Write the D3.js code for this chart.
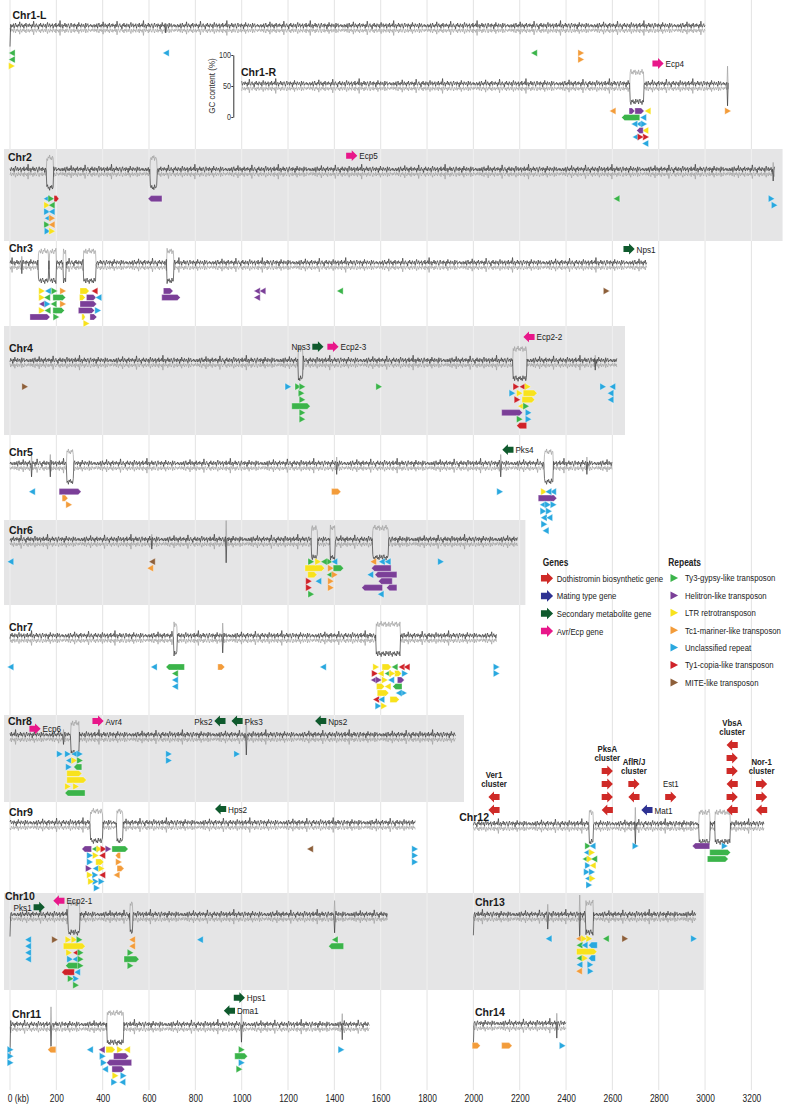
<!DOCTYPE html>
<html lang="en">
<head>
<meta charset="utf-8">
<title>GC content, genes and repeats along the chromosomes</title>
<script src="https://cdnjs.cloudflare.com/ajax/libs/d3/7.8.5/d3.min.js"></script>
<style>
*{margin:0;padding:0}
body{background:#fff;width:790px;height:1108px;overflow:hidden}
svg{display:block}
</style>
</head>
<body>
<svg id="c" width="790" height="1108"></svg>
<script>
// ---------- data ----------
const kbTicks = [0,200,400,600,800,1000,1200,1400,1600,1800,2000,2200,2400,2600,2800,3000,3200];
const gcTicks = [0,50,100];

const chrNames = ["Chr1-L","Chr1-R","Chr2","Chr3","Chr4","Chr5","Chr6","Chr7","Chr8","Chr9","Chr10","Chr11","Chr12","Chr13","Chr14"];
const chrStart = [0,1000,0,0,0,0,0,0,0,0,0,0,2000,2000,2000];
const chrEnd   = [3000,3100,3300,2750,2620,2600,2190,2100,1925,1750,1630,1553,3255,2960,2400];

// GC % sampled along a typical stretch (dark trace); grey trace = AT %
const gcTrace = [53,56,51,55,52,57,50,54,58,52,55,51,56,53,60,51,54,57,52,55,50,56,53,58,51,54,56,52,57,53,
  55,50,56,52,61,53,51,55,57,52,54,49,56,53,58,52,55,51,57,54,52,56,50,55,59,52,54,57,51,55,
  53,57,50,54,56,52,58,51,55,53,57,52,62,51,54,56,50,55,53,58,52,56,51,54,57,53,50,55,58,52,
  54,56,51,57,53,55,49,56,52,59,53,55,51,57,54,52,56,53,50,58,52,55,57,51,54,53,56,52,55,51];
// GC % inside AT-rich blocks
const atTrace = [24,28,21,26,29,23,25,20,27,24,28,22,25,21,29,24];
// AT-rich blocks [chromosome, from kb, to kb]
const atRich = [
  ["Chr1-R",2676,2736],["Chr2",158,187],["Chr2",604,634],
  ["Chr3",122,166],["Chr3",170,200],["Chr3",230,242],["Chr3",316,371],["Chr3",677,705],
  ["Chr4",1245,1265],["Chr4",2171,2231],["Chr5",245,273],["Chr5",2305,2344],
  ["Chr6",1302,1326],["Chr6",1381,1403],["Chr6",1565,1633],["Chr7",708,721],["Chr7",1580,1683],
  ["Chr8",262,299],["Chr9",348,400],["Chr9",460,486],["Chr10",252,302],["Chr10",518,530],
  ["Chr11",420,489],["Chr12",2500,2518],["Chr12",2975,3021],["Chr12",3043,3107],["Chr13",2485,2517]
];
// single-window GC dips [chromosome, kb, GC %, AT %]
const gcDips = [
  ["Chr1-L",0,20,50],["Chr1-L",673,42],["Chr1-R",3098,18],["Chr2",3295,35],["Chr3",50,36],
  ["Chr4",2525,38],["Chr5",94,32],["Chr5",173,32],["Chr5",1410,36],["Chr5",2118,32],["Chr5",2490,36],
  ["Chr6",611,38],["Chr6",932,16],["Chr7",918,26],["Chr8",230,38],["Chr8",1021,21],
  ["Chr10",0,18,50],["Chr10",1400,24],["Chr11",0,5,50],["Chr11",176,18],["Chr11",1000,25],["Chr11",1433,29],
  ["Chr12",2700,20],["Chr13",2000,20,50],["Chr13",2322,30],["Chr13",2460,15],["Chr14",2000,17,50],["Chr14",2360,30]
];

// genes [chromosome, kb, strand, type, label, tier, label side]
const genes = [
  ["Chr1-R",2797,1,"avr","Ecp4",0.5,1],
  ["Chr2",1475,1,"avr","Ecp5",0,1],
  ["Chr3",2672,1,"sec","Nps1",0,1],
  ["Chr4",1329,1,"sec","Nps3",0,-1],["Chr4",1394,1,"avr","Ecp2-3",0,1],["Chr4",2240,-1,"avr","Ecp2-2",0.75,1],
  ["Chr5",2149,-1,"sec","Pks4",0,1],
  ["Chr8",108,1,"avr","Ecp6",-0.6,1],["Chr8",380,1,"avr","Avr4",0,1],["Chr8",906,-1,"sec","Pks2",0,-1],
  ["Chr8",980,-1,"sec","Pks3",0,1],["Chr8",1341,-1,"sec","Nps2",0,1],
  ["Chr9",909,-1,"sec","Hps2",0,1],
  ["Chr10",126,1,"sec","Pks1",-0.5,-1],["Chr10",211,-1,"avr","Ecp2-1",0,1],
  ["Chr11",990,1,"sec","Hps1",1,1],["Chr11",947,-1,"sec","Dma1",0,1],
  ["Chr12",2089,-1,"dot","",0,0],["Chr12",2089,-1,"dot","",1,0],
  ["Chr12",2578,-1,"dot","",0,0],["Chr12",2578,1,"dot","",1,0],["Chr12",2578,1,"dot","",2,0],["Chr12",2578,1,"dot","",3,0],
  ["Chr12",2693,-1,"dot","",1,0],["Chr12",2693,1,"dot","",2,0],
  ["Chr12",2852,1,"dot","",1,0],
  ["Chr12",2749,-1,"mat","Mat1",0,1],
  ["Chr12",3117,-1,"dot","",0,0],["Chr12",3117,1,"dot","",1,0],["Chr12",3117,-1,"dot","",2,0],
  ["Chr12",3117,1,"dot","",3,0],["Chr12",3117,1,"dot","",4,0],["Chr12",3117,-1,"dot","",5,0],
  ["Chr12",3244,-1,"dot","",0,0],["Chr12",3244,1,"dot","",1,0],["Chr12",3244,1,"dot","",2,0]
];
// cluster names [chromosome, kb, lines, top tier, bold]
const clusterLabels = [
  ["Chr12",2089,["Ver1","cluster"],1,true],
  ["Chr12",2578,["PksA","cluster"],3,true],
  ["Chr12",2693,["AflR/J","cluster"],2,true],
  ["Chr12",2852,["Est1"],1,false],
  ["Chr12",3117,["VbsA","cluster"],5,true],
  ["Chr12",3244,["Nor-1","cluster"],2,true]
];

// repeats [chromosome, kb, strand, type, length kb (none = single element)]
const repeats = [
  ["Chr1-L",8,-1,"g"],["Chr1-L",8,-1,"g"],["Chr1-L",8,1,"l"],["Chr1-L",673,-1,"u"],["Chr1-L",2262,-1,"g"],
  ["Chr1-L",2465,1,"m"],["Chr1-L",2465,1,"m"],

  ["Chr1-R",2601,-1,"m"],
  ["Chr1-R",2697,1,"h",40],["Chr1-R",2752,-1,"l"],
  ["Chr1-R",2640,-1,"g",78],["Chr1-R",2733,-1,"u"],
  ["Chr1-R",2715,-1,"u"],["Chr1-R",2737,1,"u"],
  ["Chr1-R",2695,-1,"u"],["Chr1-R",2742,-1,"l"],
  ["Chr1-R",2672,1,"h",25],["Chr1-R",2705,-1,"h",28],["Chr1-R",2745,1,"c"],
  ["Chr1-R",2700,-1,"u"],["Chr1-R",2722,1,"c"],["Chr1-R",2742,-1,"u"],
  ["Chr1-R",3099,1,"m"],

  ["Chr2",158,-1,"u"],["Chr2",178,1,"g"],["Chr2",190,1,"c",21],
  ["Chr2",160,1,"l"],["Chr2",180,-1,"g"],
  ["Chr2",160,1,"u"],["Chr2",180,-1,"u"],
  ["Chr2",162,-1,"u"],["Chr2",182,1,"m"],
  ["Chr2",160,1,"g"],["Chr2",180,-1,"m"],
  ["Chr2",162,1,"u"],["Chr2",182,1,"l"],
  ["Chr2",596,-1,"h",60],["Chr2",2618,-1,"g"],["Chr2",3287,1,"u"],["Chr2",3300,1,"u"],

  ["Chr3",138,1,"l"],["Chr3",164,-1,"u"],["Chr3",192,1,"g"],["Chr3",229,1,"m"],
  ["Chr3",138,1,"l"],["Chr3",160,-1,"g"],["Chr3",185,1,"g",55],
  ["Chr3",138,-1,"h"],["Chr3",162,1,"u"],["Chr3",188,-1,"g"],["Chr3",229,1,"m"],
  ["Chr3",138,1,"l"],["Chr3",162,-1,"g"],["Chr3",185,1,"g",50],
  ["Chr3",86,1,"h",87],["Chr3",200,1,"g"],
  ["Chr3",302,1,"l",40],["Chr3",365,-1,"c"],
  ["Chr3",300,1,"l",25],["Chr3",330,1,"h",42],
  ["Chr3",302,1,"h",72],
  ["Chr3",295,1,"h",70],["Chr3",380,1,"u"],
  ["Chr3",310,1,"l",15],["Chr3",345,1,"h",30],["Chr3",382,-1,"u"],
  ["Chr3",330,1,"l"],
  ["Chr3",662,1,"h",42],["Chr3",655,1,"h",80],
  ["Chr3",1066,-1,"h"],["Chr3",1090,-1,"h"],["Chr3",1066,-1,"h"],["Chr3",1424,-1,"g"],["Chr3",2575,1,"t"],

  ["Chr4",65,1,"t"],["Chr4",1201,1,"u"],
  ["Chr4",1244,1,"g"],["Chr4",1258,1,"g"],["Chr4",1262,1,"g"],["Chr4",1262,1,"g"],["Chr4",1216,1,"g",80],
  ["Chr4",1262,1,"g"],["Chr4",1262,1,"g"],["Chr4",1593,1,"g"],
  ["Chr4",2185,1,"c"],["Chr4",2212,-1,"c"],["Chr4",2235,1,"l"],
  ["Chr4",2200,1,"l"],["Chr4",2215,1,"l",60],
  ["Chr4",2190,1,"c"],["Chr4",2210,1,"l",55],
  ["Chr4",2205,-1,"l"],["Chr4",2228,1,"g"],
  ["Chr4",2122,1,"h",90],["Chr4",2238,1,"u"],
  ["Chr4",2168,1,"u"],["Chr4",2200,1,"g"],["Chr4",2238,1,"u"],
  ["Chr4",2187,-1,"c",43],
  ["Chr4",2560,1,"u"],["Chr4",2600,-1,"u"],["Chr4",2592,-1,"u"],["Chr4",2592,-1,"u"],

  ["Chr5",95,-1,"u"],["Chr5",212,1,"h",95],["Chr5",225,1,"m",25],["Chr5",255,1,"m"],
  ["Chr5",1388,1,"m",40],["Chr5",2115,1,"u"],
  ["Chr5",2305,1,"l"],["Chr5",2280,1,"h",80],
  ["Chr5",2300,-1,"u"],["Chr5",2322,1,"u"],["Chr5",2344,-1,"u"],
  ["Chr5",2302,1,"u"],["Chr5",2324,-1,"u"],["Chr5",2346,1,"u"],
  ["Chr5",2304,-1,"u"],["Chr5",2326,1,"u"],
  ["Chr5",2306,1,"u"],["Chr5",2328,-1,"u"],
  ["Chr5",2312,-1,"u"],

  ["Chr6",2,-1,"u"],["Chr6",613,-1,"t"],["Chr6",605,-1,"m"],
  ["Chr6",1300,1,"g"],["Chr6",1380,1,"g"],["Chr6",1400,-1,"u"],
  ["Chr6",1273,1,"l",85],["Chr6",1385,1,"m"],
  ["Chr6",1285,1,"l",40],["Chr6",1330,1,"l"],["Chr6",1380,-1,"g"],["Chr6",1402,1,"m"],
  ["Chr6",1290,1,"c"],["Chr6",1331,-1,"u"],["Chr6",1355,-1,"g"],["Chr6",1395,1,"g",45],
  ["Chr6",1290,1,"c"],["Chr6",1385,1,"m"],
  ["Chr6",1300,1,"g"],["Chr6",1385,1,"m"],
  ["Chr6",1568,-1,"m"],["Chr6",1605,-1,"u"],["Chr6",1630,-1,"u"],
  ["Chr6",1560,-1,"h",85],
  ["Chr6",1575,-1,"h",95],
  ["Chr6",1555,-1,"u"],["Chr6",1590,-1,"h",60],
  ["Chr6",1518,-1,"h",90],["Chr6",1625,-1,"h",45],
  ["Chr6",1600,-1,"u"],["Chr6",1860,1,"u"],

  ["Chr7",2,-1,"u"],["Chr7",621,-1,"u"],["Chr7",673,-1,"g",80],["Chr7",712,-1,"g"],["Chr7",712,-1,"u"],["Chr7",712,-1,"u"],
  ["Chr7",897,1,"m",30],["Chr7",1351,-1,"u"],
  ["Chr7",1580,1,"l"],["Chr7",1606,1,"l",40],["Chr7",1660,-1,"g"],["Chr7",1690,-1,"c"],
  ["Chr7",1575,1,"c"],["Chr7",1600,-1,"l"],["Chr7",1630,-1,"g"],["Chr7",1660,1,"l",30],["Chr7",1705,1,"u"],
  ["Chr7",1570,-1,"h"],["Chr7",1592,1,"h"],["Chr7",1618,1,"l"],["Chr7",1645,-1,"u"],["Chr7",1672,1,"h",30],["Chr7",1712,-1,"c"],
  ["Chr7",1582,1,"l",35],["Chr7",1630,-1,"l"],["Chr7",1652,-1,"g",40],["Chr7",1700,1,"u"],
  ["Chr7",1585,1,"l",50],["Chr7",1650,1,"l"],["Chr7",1678,-1,"u"],
  ["Chr7",1580,-1,"c"],["Chr7",1603,-1,"u"],["Chr7",1640,1,"l",40],
  ["Chr7",1590,1,"u"],["Chr7",1615,1,"l"],
  ["Chr7",2100,1,"u"],["Chr7",2100,1,"u"],

  ["Chr8",215,1,"u"],
  ["Chr8",250,1,"u"],["Chr8",278,-1,"u"],["Chr8",302,1,"u"],
  ["Chr8",254,-1,"u"],["Chr8",278,1,"l"],["Chr8",302,1,"g"],
  ["Chr8",254,1,"u"],["Chr8",275,-1,"g",35],
  ["Chr8",245,1,"l",65],
  ["Chr8",245,1,"l",85],
  ["Chr8",250,1,"l"],["Chr8",285,1,"l"],
  ["Chr8",237,-1,"g",87],
  ["Chr8",686,1,"u"],["Chr8",686,1,"u"],["Chr8",980,1,"u"],

  ["Chr9",310,-1,"h",42],["Chr9",366,-1,"g"],["Chr9",386,1,"l"],["Chr9",404,1,"c"],["Chr9",425,1,"h"],
  ["Chr9",370,1,"l"],["Chr9",398,-1,"c"],
  ["Chr9",345,1,"u"],["Chr9",370,1,"l",35],
  ["Chr9",345,1,"u"],["Chr9",370,-1,"u"],["Chr9",395,1,"l"],
  ["Chr9",340,1,"h"],["Chr9",368,1,"u"],["Chr9",398,-1,"c"],
  ["Chr9",345,1,"l"],["Chr9",370,1,"u"],["Chr9",395,1,"u"],
  ["Chr9",350,1,"l"],["Chr9",375,1,"u"],
  ["Chr9",440,1,"g",70],
  ["Chr9",455,-1,"m",22],["Chr9",470,1,"m"],["Chr9",462,1,"m",30],["Chr9",460,-1,"m"],
  ["Chr9",1295,-1,"t"],["Chr9",1748,1,"u"],["Chr9",1748,1,"u"],["Chr9",1748,1,"u"],

  ["Chr10",78,-1,"u"],["Chr10",78,-1,"u"],["Chr10",78,-1,"u"],["Chr10",78,-1,"u"],["Chr10",194,1,"t"],
  ["Chr10",252,1,"l"],["Chr10",278,1,"l"],["Chr10",300,1,"g"],
  ["Chr10",230,1,"l",95],
  ["Chr10",255,1,"l"],["Chr10",285,-1,"c"],["Chr10",305,1,"g"],
  ["Chr10",259,1,"u"],["Chr10",282,-1,"u"],["Chr10",305,1,"g"],
  ["Chr10",240,-1,"g",55],["Chr10",305,1,"g"],
  ["Chr10",223,-1,"c",55],["Chr10",285,1,"u"],
  ["Chr10",262,1,"g"],["Chr10",290,-1,"u"],
  ["Chr10",285,1,"g"],
  ["Chr10",527,-1,"m"],["Chr10",527,-1,"m"],["Chr10",520,1,"g"],["Chr10",492,1,"g",65],["Chr10",520,1,"g"],
  ["Chr10",820,-1,"u"],["Chr10",1402,-1,"g"],["Chr10",1375,-1,"g",65],

  ["Chr11",2,1,"u"],["Chr11",2,1,"u"],["Chr11",2,1,"u"],["Chr11",163,-1,"m",35],["Chr11",345,-1,"u"],
  ["Chr11",414,1,"l",40],["Chr11",475,1,"l"],
  ["Chr11",396,-1,"h"],["Chr11",447,1,"h",65],
  ["Chr11",417,-1,"h",108],
  ["Chr11",400,1,"u"],["Chr11",440,1,"h",55],["Chr11",505,-1,"l"],
  ["Chr11",405,1,"u"],["Chr11",455,1,"l"],["Chr11",490,1,"u"],
  ["Chr11",410,-1,"u"],["Chr11",450,1,"u"],["Chr11",485,-1,"u"],
  ["Chr11",1000,1,"g"],["Chr11",970,1,"g",55],["Chr11",1000,1,"u"],["Chr11",990,1,"g"],["Chr11",1430,1,"u"],

  ["Chr12",2495,1,"g"],["Chr12",2514,-1,"u"],
  ["Chr12",2490,-1,"u"],["Chr12",2512,1,"l"],
  ["Chr12",2484,-1,"g"],["Chr12",2503,1,"l"],["Chr12",2521,-1,"g"],
  ["Chr12",2495,1,"u"],["Chr12",2515,-1,"l"],
  ["Chr12",2490,1,"u"],["Chr12",2512,1,"u"],
  ["Chr12",2495,-1,"u"],["Chr12",2514,1,"l"],
  ["Chr12",2500,1,"u"],
  ["Chr12",2700,1,"u"],["Chr12",2945,-1,"h",75],["Chr12",3085,1,"u"],["Chr12",3020,1,"g",90],["Chr12",3010,1,"g",90],

  ["Chr13",2325,-1,"u"],
  ["Chr13",2456,-1,"m"],["Chr13",2500,1,"l"],
  ["Chr13",2458,-1,"g"],["Chr13",2478,1,"l"],["Chr13",2497,-1,"u",38],
  ["Chr13",2445,1,"l",88],
  ["Chr13",2458,-1,"g"],["Chr13",2497,-1,"u",30],
  ["Chr13",2458,-1,"u"],["Chr13",2480,-1,"u"],["Chr13",2505,1,"u"],
  ["Chr13",2456,-1,"m"],["Chr13",2482,1,"l"],["Chr13",2506,1,"u"],
  ["Chr13",2572,-1,"g"],["Chr13",2655,1,"t"],["Chr13",2952,1,"u"],

  ["Chr14",1995,1,"m",35],["Chr14",2122,1,"m",45],["Chr14",2385,1,"u"]
];

const geneKeys = ["dot","mat","sec","avr"];
const geneNames = ["Dothistromin biosynthetic gene","Mating type gene","Secondary metabolite gene","Avr/Ecp gene"];
const repeatKeys = ["g","h","l","m","u","c","t"];
const repeatNames = ["Ty3-gypsy-like transposon","Helitron-like transposon","LTR retrotransposon","Tc1-mariner-like transposon","Unclassified repeat","Ty1-copia-like transposon","MITE-like transposon"];

// ---------- layout / style ----------
const COL = {dot:"#cf2a27",mat:"#2e3192",sec:"#0f5a2d",avr:"#e8178a",
  g:"#3bb44a",h:"#7b3f98",l:"#f8e21c",m:"#f39c3a",u:"#29a8df",c:"#cf2229",t:"#8d5f3a"};
const SANS = "'Liberation Sans',Arial,Helvetica,sans-serif";
const rows = {
  "Chr1-L":{y:28,lx:12.5,ly:19,lane:25},
  "Chr1-R":{y:86,lx:241,ly:76,lane:25},
  "Chr2":{y:171.7,lx:8,ly:160.7,lane:27},
  "Chr3":{y:265,lx:9,ly:252,lane:26},
  "Chr4":{y:362.7,lx:9,ly:352,lane:24},
  "Chr5":{y:465.7,lx:9,ly:456,lane:26},
  "Chr6":{y:541.7,lx:9,ly:534,lane:20},
  "Chr7":{y:638,lx:9,ly:630.7,lane:29},
  "Chr8":{y:737,lx:8,ly:724.7,lane:17},
  "Chr9":{y:825,lx:9,ly:816,lane:24},
  "Chr10":{y:916.7,lx:5,ly:900,lane:23},
  "Chr11":{y:1026.7,lx:12,ly:1018,lane:23},
  "Chr12":{y:826,lx:489,ly:820.7,lane:20,anchor:"end"},
  "Chr13":{y:916.7,lx:475,ly:906,lane:22},
  "Chr14":{y:1025.7,lx:475,ly:1015.7,lane:20}
};
const bands = [
  {rows:["Chr2"],y0:149,y1:241},{rows:["Chr4"],y0:326,y1:435},{rows:["Chr6"],y0:520,y1:605},
  {rows:["Chr8"],y0:715,y1:802},{rows:["Chr10","Chr13"],y0:893,y1:990}
];
const LANE = 6.5, STEP = 3;

const svg = d3.select("#c");
const x = d3.scaleLinear().domain([0, 3200]).range([10, 751.4]);
const gcScale = d3.scaleLinear().domain([0, 100]).range([117, 55]);
const gcOff = v => gcScale(v) - gcScale(50);

// condensed text: Arial metrics squeezed horizontally
function ntext(g, px, py, str, size, sx, o = {}) {
  return g.append("text").attr("transform", `translate(${px},${py}) scale(${sx},1)`)
    .attr("text-anchor", o.anchor || "start").attr("font-family", SANS).attr("font-size", size + "px")
    .attr("font-weight", o.bold ? "bold" : "normal").attr("fill", o.fill || "#222").text(str);
}

// grid under bands
const gridG = svg.append("g");
kbTicks.forEach(t => gridG.append("line").attr("x1", x(t)).attr("x2", x(t)).attr("y1", 0).attr("y2", 1090)
  .attr("stroke", "#dcdcdc").attr("stroke-width", 0.8));

// grey bands
bands.forEach(b => {
  const end = d3.max(b.rows, r => chrEnd[chrNames.indexOf(r)]);
  svg.append("rect").attr("x", 4).attr("y", b.y0).attr("width", x(end) + 8 - 4).attr("height", b.y1 - b.y0).attr("fill", "#e5e5e6");
  kbTicks.filter(t => x(t) < x(end) + 8).forEach(t => svg.append("line").attr("x1", x(t)).attr("x2", x(t))
    .attr("y1", b.y0).attr("y2", b.y1).attr("stroke", "#f3f3f3").attr("stroke-width", 0.8));
});

// GC traces
function gcPoints(ci) {
  const name = chrNames[ci], blocks = atRich.filter(b => b[0] === name), dips = gcDips.filter(d => d[0] === name);
  const pts = [];
  let k = ci * 23;
  for (let kb = chrStart[ci]; kb <= chrEnd[ci]; kb += STEP, k++) {
    let gc = gcTrace[k % gcTrace.length], at = 100 - gc;
    if (blocks.some(b => kb >= b[1] && kb <= b[2])) { gc = atTrace[k % atTrace.length]; at = 100 - gc - 3; }
    const d = dips.find(d => Math.abs(d[1] - kb) < STEP / 2 + 0.01);
    if (d) { gc = d[2]; at = d[3] != null ? d[3] : 100 - gc; }
    pts.push([kb, gc, at]);
  }
  return pts;
}
const traceG = svg.append("g");
chrNames.forEach((name, ci) => {
  const r = rows[name], pts = gcPoints(ci);
  traceG.append("path").attr("d", d3.line().x(d => x(d[0])).y(d => r.y + gcOff(d[2]))(pts))
    .attr("fill", "none").attr("stroke", "#a0a0a0").attr("stroke-width", 0.7);
  traceG.append("path").attr("d", d3.line().x(d => x(d[0])).y(d => r.y + gcOff(d[1]))(pts))
    .attr("fill", "none").attr("stroke", "#3a3a3a").attr("stroke-width", 0.7);
  svg.append("text").attr("x", r.lx).attr("y", r.ly).attr("text-anchor", r.anchor || "start")
    .attr("font-family", SANS).attr("font-weight", "bold").attr("font-size", "10.5px").attr("fill", "#1a1a1a").text(name);
});

// repeats, stacked in lanes below each trace
function tri(cx, cy, dir, w, h) {
  return `M${cx - dir * w / 2},${cy - h / 2}L${cx + dir * w / 2},${cy}L${cx - dir * w / 2},${cy + h / 2}Z`;
}
function bar(x0, x1, cy, dir, h) {
  const tip = Math.min(3, (x1 - x0) / 2), a = dir > 0 ? x0 : x1, b = dir > 0 ? x1 : x0, bt = b - dir * tip;
  return `M${a},${cy - h / 2}L${bt},${cy - h / 2}L${b},${cy}L${bt},${cy + h / 2}L${a},${cy + h / 2}Z`;
}
const lanes = {};
const repG = svg.append("g");
repeats.forEach(([chr, kb, dir, type, len]) => {
  const r = rows[chr];
  const a = len ? x(kb) : x(kb) - 2, b = len ? x(kb + len) : x(kb) + 2;
  const L = lanes[chr] || (lanes[chr] = []);
  let li = 0;
  while (L[li] && L[li].some(([p, q]) => a < q && b > p)) li++;
  (L[li] || (L[li] = [])).push([a, b]);
  const cy = r.y + r.lane + li * LANE;
  repG.append("path").attr("d", len ? bar(x(kb), x(kb + len), cy, dir, 6.2) : tri(x(kb), cy, dir, 6.4, 7.2))
    .attr("fill", COL[type]).attr("stroke", "#fff").attr("stroke-width", 0.35);
});

// genes
function geneArrow(cx, cy, dir, s) {
  const L = 5.6 * s, bh = 3 * s, hh = 5.4 * s, d = dir;
  return `M${cx - d * L},${cy - bh}L${cx},${cy - bh}L${cx},${cy - hh}L${cx + d * L},${cy}L${cx},${cy + hh}L${cx},${cy + bh}L${cx - d * L},${cy + bh}Z`;
}
const geneY = (chr, tier) => rows[chr].y - 16 - 13 * tier;
genes.forEach(([chr, kb, dir, type, label, tier, side]) => {
  const cx = x(kb), cy = geneY(chr, tier);
  svg.append("path").attr("d", geneArrow(cx, cy, dir, 1)).attr("fill", COL[type]);
  if (label) ntext(svg, side > 0 ? cx + 7.5 : cx - 7.5, cy + 3.5, label, 9.6, 0.85, {anchor: side > 0 ? "start" : "end"});
});
clusterLabels.forEach(([chr, kb, lines, tier, bold]) => {
  const base = geneY(chr, tier) - 10;
  lines.forEach((t, i) => ntext(svg, x(kb), base - (lines.length - 1 - i) * 9.2, t, 9.8, 0.8, {anchor: "middle", bold}));
});

// GC content axis (Chr1-R)
const gcAxis = svg.append("g").attr("transform", "translate(233.3,0)")
  .call(d3.axisLeft(gcScale).tickValues(gcTicks).tickSize(2).tickSizeOuter(0).tickPadding(1));
gcAxis.select(".domain").attr("stroke", "#333");
gcAxis.selectAll(".tick line").attr("stroke", "#333");
gcAxis.selectAll("text").attr("font-family", SANS).attr("font-size", "9px").attr("fill", "#333").attr("transform", "scale(0.8,1)");
ntext(svg, 0, 0, "GC content (%)", 9.5, 0.85, {anchor: "middle", fill: "#333"})
  .attr("transform", "translate(214.5,86) rotate(-90) scale(0.85,1)");

// kb axis
const xAxis = svg.append("g").attr("transform", "translate(0,1090)")
  .call(d3.axisBottom(x).tickValues(kbTicks).tickSize(0).tickPadding(4.5).tickFormat(d => d === 0 ? "0 (kb)" : d));
xAxis.select(".domain").remove();
xAxis.selectAll("text").attr("font-family", SANS).attr("font-size", "10.5px").attr("fill", "#222").attr("transform", "scale(0.8,1)");
xAxis.selectAll("text").filter(d => d === 0).attr("text-anchor", "start").attr("x", -3.5);

// legend
const lg = svg.append("g");
ntext(lg, 542.7, 566, "Genes", 10, 0.84, {bold: true});
geneNames.forEach((n, i) => {
  const cy = 578.3 + i * 17.6;
  lg.append("path").attr("d", geneArrow(547, cy, 1, 1.08)).attr("fill", COL[geneKeys[i]]);
  ntext(lg, 556.7, cy + 3.4, n, 9.5, 0.82);
});
ntext(lg, 668.3, 566, "Repeats", 10, 0.84, {bold: true});
repeatNames.forEach((n, i) => {
  const cy = 578 + i * 17.4;
  lg.append("path").attr("d", tri(674.3, cy, 1, 7.6, 8)).attr("fill", COL[repeatKeys[i]]);
  ntext(lg, 685, cy + 3.4, n, 9.5, 0.82);
});
</script>
</body>
</html>
